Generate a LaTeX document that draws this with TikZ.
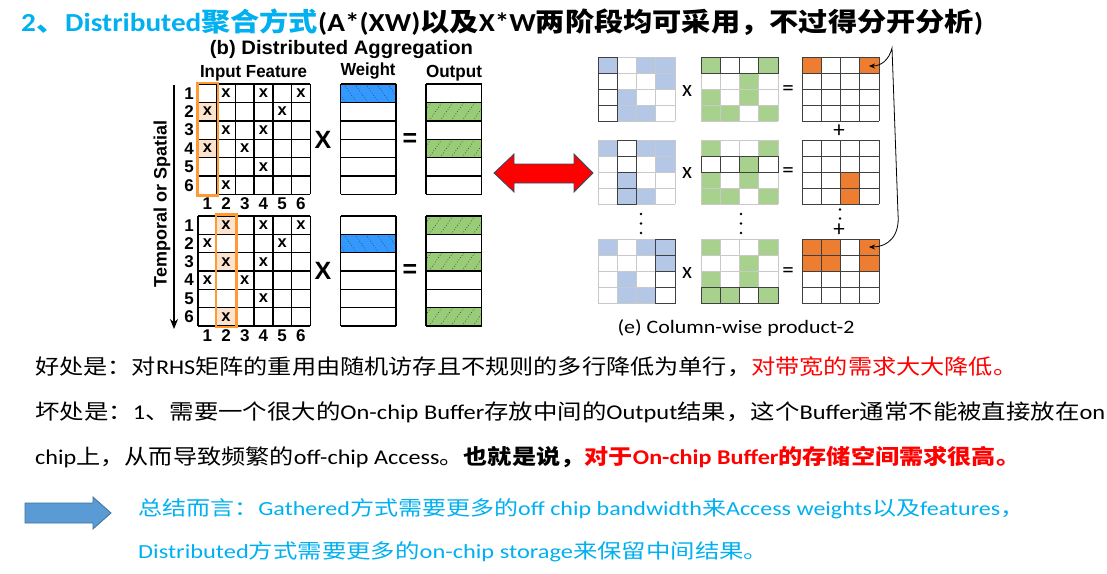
\documentclass[tikz,border=0pt]{standalone}
\usepackage{fontspec}
\usepackage{graphicx}
\usetikzlibrary{arrows.meta}
\newfontfamily\cjk{Noto Sans CJK SC}
\newfontfamily\arial{Liberation Sans}
\newfontfamily\cali{Carlito}
\newcommand\lat[1]{{\cali #1}}
\newcommand\fitx[2]{\resizebox{#1}{\height}{#2}}
\definecolor{cyanT}{HTML}{00B0F0}
\definecolor{lblue}{HTML}{B4C7E7}
\definecolor{lgreen}{HTML}{A9D18E}
\definecolor{orng}{HTML}{ED7D31}
\definecolor{hblue}{HTML}{3399FF}
\definecolor{hgreen}{HTML}{99CC77}
\definecolor{hlor}{HTML}{FBE3CE}
\definecolor{obord}{HTML}{FF9A33}
\definecolor{gridg}{HTML}{C9C9C9}
\definecolor{darkg}{HTML}{404040}
\definecolor{arrb}{HTML}{5B9BD5}
\definecolor{arrbd}{HTML}{41719C}
\definecolor{redout}{HTML}{2F4F6F}
% left matrices
\newcommand\lmat[5]{% x0, y0, ncols, colw, rowh
  \foreach \i in {0,...,#3} \draw[lgrid] ({#1+\i*#4},#2) -- ++(0,{6*#5});
  \foreach \j in {0,...,6} \draw[lgrid] (#1,{#2+\j*#5}) -- ++({#3*#4},0);
}
\newcommand\hatchB[2]{%
  \fill[hblue] (#1,#2) rectangle ++(55.3,18.4);
  \begin{scope}\clip (#1,#2) rectangle ++(55.3,18.4);
  \foreach \k in {0,...,5} \draw[black!75, dotted, line width=0.7pt] ({#1+\k*11-8},#2) -- ++(13,18.4);
  \end{scope}}
\newcommand\hatchG[2]{%
  \fill[hgreen] (#1,#2) rectangle ++(55.7,18.4);
  \begin{scope}\clip (#1,#2) rectangle ++(55.7,18.4);
  \foreach \k in {0,...,5} \draw[black!75, dotted, line width=0.7pt] ({#1+\k*11-8},{#2+18.4}) -- ++(13,-18.4);
  \end{scope}}
% right matrices
\newcommand\rmat[4]{% x0, y0, fill colour, fill list
  \foreach \r/\c in {#4} \fill[#3] ({#1+(\c-1)*19.25},{#2+(\r-1)*16}) rectangle ++(19.25,16);
}
\newcommand\rgrid[3]{% x0,y0,colour
  \foreach \i in {0,...,4} {\draw[rline,#3] ({#1+\i*19.25},#2) -- ++(0,64);
    \draw[rline,#3] (#1,{#2+\i*16}) -- ++(77,0);}
}
\newcommand\rcol[3]{% x0,y0,col
  \foreach \r in {1,...,4} \draw[rline,darkg] ({#1+(#3-1)*19.25},{#2+(\r-1)*16}) rectangle ++(19.25,16);}
\newcommand\rrow[3]{% x0,y0,row
  \foreach \c in {1,...,4} \draw[rline,darkg] ({#1+(\c-1)*19.25},{#2+(#3-1)*16}) rectangle ++(19.25,16);}
\begin{document}
\begin{tikzpicture}[x=1pt,y=-1pt,
  txt/.style={inner sep=0pt, anchor=west},
  lgrid/.style={line width=1.4pt, black},
  rline/.style={line width=1pt},
  num/.style={inner sep=0pt, font=\arial\bfseries\fontsize{17}{17}\selectfont},
  xmk/.style={inner sep=0pt, font=\arial\bfseries\fontsize{16.5}{16.5}\selectfont},
  opl/.style={inner sep=0pt, font=\arial\bfseries\fontsize{25}{25}\selectfont},
  opr/.style={inner sep=0pt, font=\cali\fontsize{23}{23}\selectfont},
  dotc/.style={fill=black, radius=1.2pt}]
\fill[white] (0,0) rectangle (1107,573);
\useasboundingbox (0,0) rectangle (1107,573);

% ---------- title ----------
\node[txt] (title) at (21,22) {\fitx{962pt}{\cjk\bfseries\fontsize{26}{26}\selectfont\textcolor{cyanT}{\lat{2}、\lat{Distributed}聚合方式}\lat{(A*(XW)}以及\lat{X*W}两阶段均可采用，不过得分开分析\lat{)}}};

% ---------- left figure ----------
\node[inner sep=0pt] (btitle) at (341.5,49) {\fitx{263pt}{\arial\bfseries\fontsize{19.5}{19.5}\selectfont (b) Distributed Aggregation}};
\node[inner sep=0pt] (linput) at (253.5,73) {\fitx{107pt}{\arial\bfseries\fontsize{17.5}{17.5}\selectfont Input Feature}};
\node[inner sep=0pt] (lweight) at (368,71) {\fitx{55pt}{\arial\bfseries\fontsize{17.5}{17.5}\selectfont Weight}};
\node[inner sep=0pt] (loutput) at (454,73) {\fitx{56pt}{\arial\bfseries\fontsize{17.5}{17.5}\selectfont Output}};

% highlight fills
\foreach \r in {2,4} \fill[hlor] (198,{84+(\r-1)*18.4}) rectangle ++(18.7,18.4);
\foreach \r in {1,3,6} \fill[hlor] (216.7,{216+(\r-1)*18.3}) rectangle ++(18.7,18.3);
% hatched cells
\hatchB{340.7}{84}
\hatchG{426}{102.4}
\hatchG{426}{139.2}
\hatchB{340.7}{234.3}
\hatchG{426}{216}
\hatchG{426}{252.6}
\hatchG{426}{307.5}
% grids
\lmat{198}{84}{6}{18.7}{18.4}
\lmat{198}{216}{6}{18.7}{18.3}
\lmat{340.7}{84}{1}{55.3}{18.4}
\lmat{340.7}{216}{1}{55.3}{18.3}
\lmat{426}{84}{1}{55.7}{18.4}
\lmat{426}{216}{1}{55.7}{18.3}
% x marks
\foreach \r/\c in {1/2,1/4,1/6,2/1,2/5,3/2,3/4,4/1,4/3,5/4,6/2} {
  \node[xmk] at ({198+(\c-0.5)*18.7},{84+(\r-0.5)*18.4}) {x};
  \node[xmk] at ({198+(\c-0.5)*18.7},{216+(\r-0.5)*18.3}) {x};
}
% orange frames
\draw[obord, line width=2.4pt] (197.5,83) rectangle (217.8,195.5);
\draw[obord, line width=2.4pt] (216,214.5) rectangle (236.6,326.8);
% row / column labels
\foreach \r in {1,...,6} {
  \node[num] at (189,{84+(\r-0.5)*18.4}) {\r};
  \node[num] at (189,{216+(\r-0.5)*18.3}) {\r};
}
\foreach \c in {1,...,6} {
  \node[num] at ({198+(\c-0.5)*18.7},204) {\c};
  \node[num] at ({198+(\c-0.5)*18.7},335.5) {\c};
}
% operators
\node[opl] (lx1) at (323,139.5) {X};
\node[opl] (le1) at (410,139.5) {=};
\node[opl] (lx2) at (323,271) {X};
\node[opl] (le2) at (410,271) {=};
% axis
\coordinate (axtop) at (174,85);
\coordinate (axbot) at (174,329);
\draw[line width=1.2pt, -{Stealth[length=10pt,width=8pt]}] (axtop) -- (axbot);
\node[inner sep=0pt, rotate=90] (axlab) at (162,204) {\arial\bfseries\fontsize{18}{18}\selectfont Temporal or Spatial};

% ---------- red double arrow ----------
\draw[fill=red, draw=redout, line width=0.8pt] (494,173) -- (514,154) -- (514,164) -- (574,164) -- (574,154) -- (593,173) -- (574,192) -- (574,183) -- (514,183) -- (514,192) -- cycle;

% ---------- right figure ----------
\foreach \y in {57,140,239} {
  \rmat{598}{\y}{lblue}{1/1,1/3,1/4,2/4,3/2,4/2,4/3}
  \rmat{701}{\y}{lgreen}{1/1,1/4,2/3,3/1,3/3,4/1,4/2,4/4}
  \rgrid{598}{\y}{gridg}
  \rgrid{701}{\y}{gridg}
}
\rmat{802}{57}{orng}{1/1,1/4}
\rmat{802}{140}{orng}{3/3,4/3}
\rmat{802}{239}{orng}{1/1,1/2,1/4,2/1,2/2,2/4}
\rgrid{802}{57}{darkg}
\rgrid{802}{140}{darkg}
\rgrid{802}{239}{darkg}
\rcol{598}{57}{1}
\rcol{598}{140}{2}
\rcol{598}{239}{4}
\rrow{701}{57}{1}
\rrow{701}{140}{2}
\rrow{701}{239}{4}
% operators
\foreach \y in {89,171.5,271} {
  \node[opr] at (687,{\y+2}) {x};
  \node[opr] at (788,{\y+1.5}) {=};
}
\node[opr] (plus1) at (839,131.5) {+};
\node[opr] (plus2) at (839,230.5) {+};
% dots
\foreach \x in {641,741} \foreach \y in {214,223.5,233} \fill[black] (\x,\y) circle (1.3pt);
\foreach \y in {209.5,218.5} \fill[black] (840,\y) circle (1.3pt);
% curved connector
\coordinate (tipA) at (869,66);
\coordinate (tipB) at (869,247);
\draw[line width=0.8pt, {Stealth[length=6pt,width=5pt]}-{Stealth[length=6pt,width=5pt]}] (tipA) .. controls (881,66) and (889,60) .. (892,48) -- (898,214) .. controls (900,236) and (888,247) .. (tipB);
\node[inner sep=0pt] (cap) at (736,328.5) {\fitx{237pt}{\cali\fontsize{19}{19}\selectfont (e) Column-wise product-2}};

% ---------- text lines ----------
\node[txt] (l1) at (35,367) {\fitx{982pt}{\cjk\fontsize{21}{21}\selectfont 好处是：对\lat{RHS}矩阵的重用由随机访存且不规则的多行降低为单行，\textcolor{red}{对带宽的需求大大降低。}}};
\node[txt] (l2) at (35,412) {\fitx{1070pt}{\cjk\fontsize{21}{21}\selectfont 坏处是：\lat{1}、需要一个很大的\lat{On-chip Buffer}存放中间的\lat{Output}结果，这个\lat{Buffer}通常不能被直接放在\lat{on}}};
\node[txt] (l3) at (35,457) {\fitx{985pt}{\cjk\fontsize{21}{21}\selectfont \lat{chip}上，从而导致频繁的\lat{off-chip Access}。{\bfseries 也就是说，}\textcolor{red}{\bfseries 对于\lat{On-chip Buffer}的存储空间需求很高。}}};

% summary arrow
\draw[fill=arrb, draw=arrbd, line width=0.8pt] (25,503) -- (93,503) -- (93,497) -- (111,513) -- (93,529) -- (93,523) -- (25,523) -- cycle;
\node[txt] (s1) at (138,509) {\fitx{886pt}{\cjk\fontsize{20}{20}\selectfont\color{cyanT}总结而言：\lat{Gathered}方式需要更多的\lat{off chip bandwidth}来\lat{Access weights}以及\lat{features}，}};
\node[txt] (s2) at (138,552) {\fitx{630pt}{\cjk\fontsize{20}{20}\selectfont\color{cyanT}\lat{Distributed}方式需要更多的\lat{on-chip storage}来保留中间结果。}};
\end{tikzpicture}
\end{document}
